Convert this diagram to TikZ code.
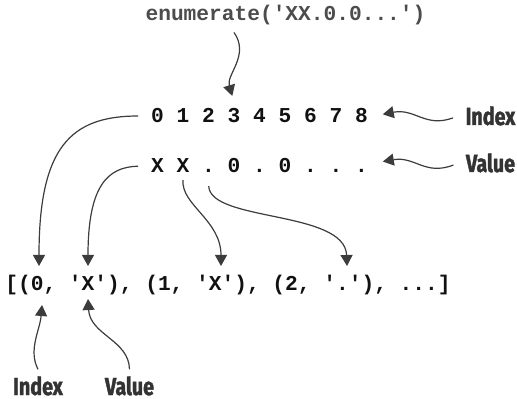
\documentclass[tikz,border=0pt]{standalone}
\usepackage{fontspec}
\setmonofont{Liberation Mono}
\newfontfamily\labelfont[FakeStretch=0.8,FakeBold=1.6]{Fira Sans}
\usetikzlibrary{arrows.meta}
\definecolor{codegray}{HTML}{4C4C4C}
\definecolor{codeblack}{HTML}{111111}
\definecolor{curvegray}{HTML}{3C3C3C}
\definecolor{labelgray}{HTML}{333333}

\begin{document}
\begin{tikzpicture}[x=0.5pt,y=-0.5pt,
  code/.style={font=\ttfamily\bfseries\fontsize{10.6}{12}\selectfont,text=codeblack},
  callout/.style={font=\labelfont\bfseries\fontsize{12.3}{14}\selectfont,text=labelgray,inner sep=0pt,outer sep=3.5pt},
  pointer/.style={draw=curvegray,line width=0.6pt,-{Triangle[width=6pt,length=5.5pt]}}]
  \useasboundingbox (0,0) rectangle (517,399);

  % the call and the two rows it yields
  \node[code,text=codegray,anchor=base] (call) at (285.5,21) {enumerate('XX.0.0...')};
  \foreach \i in {0,...,8}
    \node[code,anchor=base] (idx\i) at ({157.5+25.5*\i},123) {\i};
  \foreach \c [count=\i from 0] in {X,X,{.},0,{.},0,{.},{.},{.}}
    \node[code,anchor=base] (val\i) at ({157.5+25.5*\i},173) {\c};

  % the resulting pairs
  \node[code,anchor=base] (pairs) at (228,291) {[(0, 'X'), (1, 'X'), (2, '.'), ...]};

  \node[callout,anchor=base] (idxnote) at (490.5,125) {Index};
  \node[callout,anchor=base] (valnote) at (490.5,172) {Value};
  \node[callout,anchor=base] (idxnote2) at (38,395) {Index};
  \node[callout,anchor=base] (valnote2) at (129.5,395) {Value};

  \coordinate (t0) at (39,266);
  \coordinate (t1) at (88,266);
  \coordinate (t2) at (221,266);
  \coordinate (t3) at (347,266);
  \coordinate (t4) at (42,305);
  \coordinate (t5) at (88,299);

  \draw[pointer,shorten >=3pt] (call.south -| idx3) .. controls (250,55) and (226,75) .. (idx3.north);
  \draw[pointer,shorten <=3pt,shorten >=4pt] (idxnote.west) .. controls (425,128) and (415,108) .. (idx8.east |- idxnote.west);
  \draw[pointer,shorten <=3pt,shorten >=4pt] (valnote.west) .. controls (425,176) and (415,156) .. (val8.east |- valnote.west);

  \draw[pointer,shorten <=3pt] (idx0.west) .. controls (70,116) and (39,148) .. (t0);
  \draw[pointer,shorten <=3pt] (val0.west) .. controls (108,167) and (88,185) .. (t1);
  \draw[pointer] (val1.south) .. controls (181,205) and (221,220) .. (t2);
  \draw[pointer,shorten <=3pt] (val2.south) .. controls (210,222) and (345,210) .. (t3);

  \draw[pointer] (idxnote2.north) .. controls (28,350) and (40,330) .. (t4);
  \draw[pointer] (valnote2.north) .. controls (129,340) and (90,335) .. (t5);
\end{tikzpicture}
\end{document}
